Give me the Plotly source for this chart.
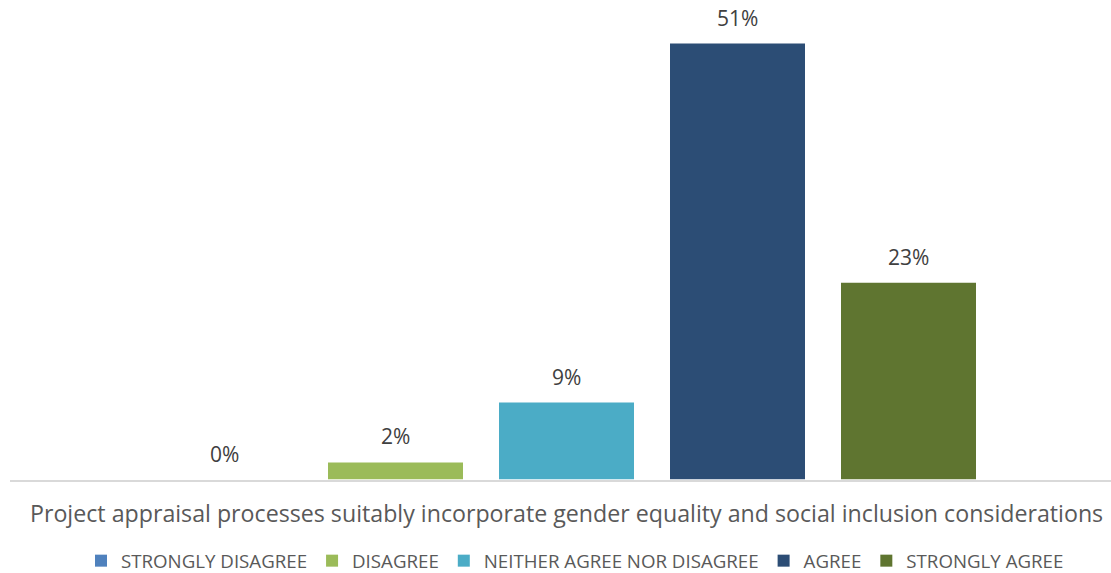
import plotly.graph_objects as go

# Survey responses for a single statement
statement = "Project appraisal processes suitably incorporate gender equality and social inclusion considerations"
responses = ["STRONGLY DISAGREE", "DISAGREE", "NEITHER AGREE NOR DISAGREE", "AGREE", "STRONGLY AGREE"]
shares = [0, 2, 9, 51, 23]
colors = ["#4f81bd", "#9bbb59", "#4bacc6", "#2c4d75", "#5f7530"]

FONT = "Open Sans, Segoe UI, sans-serif"
W, H = 1111, 573

fig = go.Figure()
for name, val, col in zip(responses, shares, colors):
    fig.add_trace(go.Bar(
        x=[name], y=[val], name=name,
        marker=dict(color=col, line=dict(width=0)),
        hoverinfo="name+y",
    ))

# value labels above each bar
for name, val in zip(responses, shares):
    fig.add_annotation(
        x=name, y=val, xref="x", yref="y",
        text=f"{val}%", showarrow=False,
        yanchor="middle", yshift=26,
        font=dict(family=FONT, size=21, color="#404040"),
    )

PX_PER_UNIT = 171.0
LEFT = 10
FIRST_CENTER = 224.5
PLOT_W = W - LEFT
x_lo = -(FIRST_CENTER - LEFT) / PX_PER_UNIT
x_hi = x_lo + PLOT_W / PX_PER_UNIT

# category caption under the axis, centred on the bar group
fig.add_annotation(
    x=(566 - LEFT) / PLOT_W, y=(H - 513) / H, xref="paper", yref="paper",
    xanchor="center", yanchor="middle",
    text=statement, showarrow=False,
    font=dict(family=FONT, size=23.2, color="#595959"),
)

BASELINE = 479.5
PX_PER_PCT = 436 / 51

fig.update_layout(
    width=W, height=H,
    margin=dict(l=LEFT, r=0, t=0, b=0, autoexpand=False),
    paper_bgcolor="white", plot_bgcolor="white",
    barmode="group", bargap=36 / 171,
    showlegend=True,
    legend=dict(
        orientation="h", x=(575 - LEFT) / PLOT_W, xanchor="center",
        y=(H - 561) / H, yanchor="middle",
        font=dict(family=FONT, size=18.7, color="#595959"),
        itemclick=False, itemdoubleclick=False,
        tracegroupgap=0, bgcolor="rgba(0,0,0,0)",
    ),
    xaxis=dict(
        range=[x_lo, x_hi], showticklabels=False, showgrid=False,
        showline=True, linecolor="#d9d9d9", linewidth=2, ticks="",
        zeroline=False, fixedrange=True,
    ),
    yaxis=dict(
        domain=[(H - BASELINE) / H, 1],
        range=[0, BASELINE / PX_PER_PCT], visible=False, showgrid=False,
        zeroline=False, fixedrange=True,
    ),
)

fig.write_html("out.html")
